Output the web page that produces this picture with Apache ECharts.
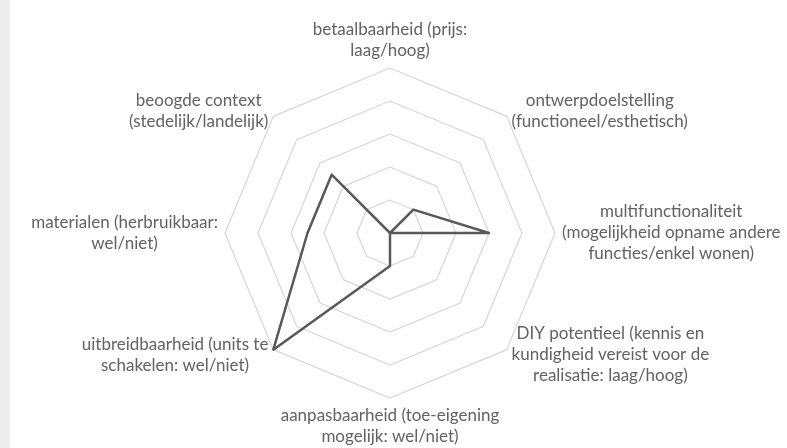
<!DOCTYPE html>
<html>
<head>
<meta charset="utf-8">
<script src="https://cdn.jsdelivr.net/npm/echarts@6/dist/echarts.min.js"></script>
<style>
  html, body { margin: 0; padding: 0; background: #fff; }
  #strip { position: absolute; left: 0; top: 0; width: 10px; height: 448px; background: #ececec; }
  #chart { position: absolute; left: 0; top: 0; width: 787px; height: 448px; }
</style>
</head>
<body>
<div id="strip"></div>
<div id="chart"></div>
<script>
// axes clockwise from the top, as in the picture
var categories = [
    'betaalbaarheid (prijs:\nlaag/hoog)',
    'ontwerpdoelstelling\n(functioneel/esthetisch)',
    'multifunctionaliteit\n(mogelijkheid opname andere\nfuncties/enkel wonen)',
    'DIY potentieel (kennis en\nkundigheid vereist voor de\nrealisatie: laag/hoog)',
    'aanpasbaarheid (toe-eigening\nmogelijk: wel/niet)',
    'uitbreidbaarheid (units te\nschakelen: wel/niet)',
    'materialen (herbruikbaar:\nwel/niet)',
    'beoogde context\n(stedelijk/landelijk)'
];
var values = [0, 1, 3, 0, 1, 5, 2.5, 2.5];
var maxValue = 5;

// echarts lays the indicators out counter-clockwise, so flip the order
function ccw(arr) {
    return [arr[0]].concat(arr.slice(1).reverse());
}

var chart = echarts.init(document.getElementById('chart'));

var option = {
    animation: false,
    radar: {
        center: [390, 233],
        radius: 165,
        startAngle: 90,
        splitNumber: 5,
        shape: 'polygon',
        indicator: ccw(categories).map(function (c) {
            return { name: c, max: maxValue, min: 0 };
        }),
        nameGap: 7,
        axisName: {
            color: '#626262',
            fontFamily: 'Lato',
            fontSize: 17,
            lineHeight: 21,
            formatter: function (name) {
                return name.split('\n').map(function (l) {
                    return '{c|' + l + '}';
                }).join('\n');
            },
            rich: {
                c: {
                    align: 'center',
                    color: '#626262',
                    fontFamily: 'Lato',
                    fontSize: 17,
                    lineHeight: 21
                }
            }
        },
        axisLine: { show: false },
        splitArea: { show: false },
        splitLine: {
            lineStyle: { color: '#d9d9d9', width: 1.3 }
        }
    },
    series: [{
        type: 'radar',
        symbol: 'none',
        lineStyle: { color: '#595959', width: 2.5 },
        data: [{ value: ccw(values) }]
    }]
};

chart.setOption(option);
</script>
</body>
</html>
